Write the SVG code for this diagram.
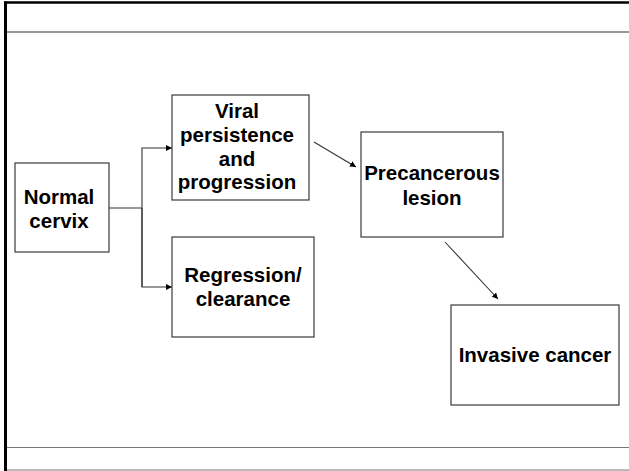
<svg xmlns="http://www.w3.org/2000/svg" width="629" height="471" viewBox="0 0 629 471">
<style>
.box{fill:#fff;stroke:#3a3a3a;stroke-width:1.2}
.lbl{font-family:"Liberation Sans",Arial,sans-serif;font-weight:bold;font-size:20.5px;fill:#000;text-anchor:middle}
.con{fill:none;stroke:#333;stroke-width:1.1}
</style>
<defs>
<marker id="ah" viewBox="0 0 10 10" refX="10" refY="5" markerWidth="6" markerHeight="6" markerUnits="userSpaceOnUse" orient="auto">
<path d="M0,0 L10,5 L0,10 z" fill="#000"/>
</marker>
</defs>
<rect x="0" y="0" width="629" height="471" fill="#fff"/>
<g id="frame">
<line x1="4" y1="2.5" x2="629" y2="2.5" stroke="#000" stroke-width="2.5"/>
<line x1="5.5" y1="1.5" x2="5.5" y2="471" stroke="#000" stroke-width="3"/>
<line x1="7" y1="32" x2="629" y2="32" stroke="#333" stroke-width="1.2"/>
<line x1="7" y1="447.5" x2="629" y2="447.5" stroke="#777" stroke-width="1.2"/>
<line x1="7" y1="470" x2="629" y2="470" stroke="#777" stroke-width="1.2"/>
</g>
<g id="connectors">
<polyline class="con" points="109,208 142,208"/>
<polyline class="con" points="142,287 142,148 172,148" marker-end="url(#ah)"/>
<polyline class="con" points="142,208 142,287 172,287" marker-end="url(#ah)"/>
<line class="con" x1="314" y1="142" x2="356" y2="167" marker-end="url(#ah)"/>
<line class="con" x1="445" y1="242" x2="498" y2="299" marker-end="url(#ah)"/>
</g>
<g id="normal">
<rect class="box" x="15" y="163" width="94" height="89"/>
<text class="lbl" x="59" y="204">Normal</text>
<text class="lbl" x="59" y="228">cervix</text>
</g>
<g id="viral">
<rect class="box" x="172" y="95" width="137" height="105"/>
<text class="lbl" x="237" y="118">Viral</text>
<text class="lbl" x="237" y="142">persistence</text>
<text class="lbl" x="237" y="166">and</text>
<text class="lbl" x="237" y="189">progression</text>
</g>
<g id="regression">
<rect class="box" x="172" y="237" width="142" height="100"/>
<text class="lbl" x="243" y="282">Regression/</text>
<text class="lbl" x="243" y="306">clearance</text>
</g>
<g id="precancerous">
<rect class="box" x="361" y="132" width="142" height="105"/>
<text class="lbl" x="432" y="180">Precancerous</text>
<text class="lbl" x="432" y="205">lesion</text>
</g>
<g id="invasive">
<rect class="box" x="451" y="305" width="168" height="100"/>
<text class="lbl" x="535" y="362">Invasive cancer</text>
</g>
</svg>
